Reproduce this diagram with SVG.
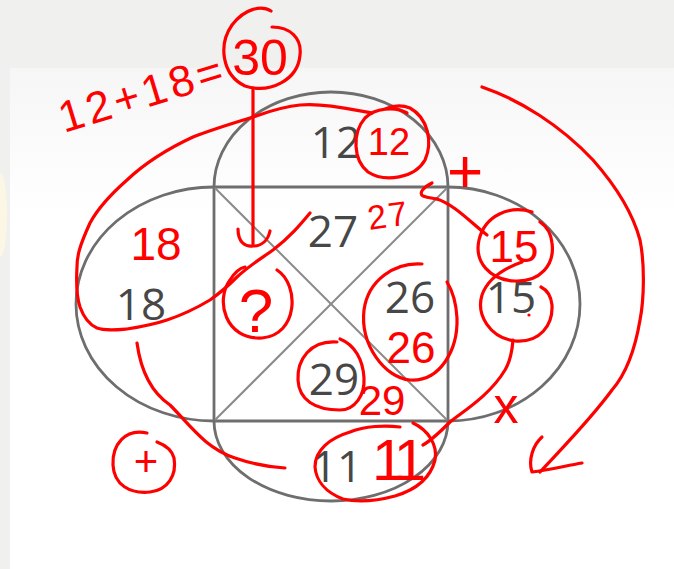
<svg xmlns="http://www.w3.org/2000/svg" width="674" height="569" viewBox="0 0 674 569">
<defs>
<linearGradient id="panel" x1="0" y1="0" x2="0" y2="1">
<stop offset="0" stop-color="#f6f6f6"/>
<stop offset="0.3" stop-color="#ffffff"/>
<stop offset="1" stop-color="#ffffff"/>
</linearGradient>
<style>
.shape{fill:none;stroke:#6e6e6e;stroke-width:2.8;stroke-linecap:round;stroke-linejoin:round}
.diag{fill:none;stroke:#8a8a8a;stroke-width:2}
.num{font-family:"Open Sans","Noto Sans",sans-serif;font-size:44px;fill:#474747;text-anchor:middle}
.ink{fill:none;stroke:#ff0000;stroke-width:3.2;stroke-linecap:round;stroke-linejoin:round}
.hand{font-family:"Liberation Sans",Arial,sans-serif;fill:#ff0000;text-anchor:middle}
.start{text-anchor:start}
</style>
</defs>
<g id="background">
<rect x="0" y="0" width="674" height="569" fill="#f0f0ef"/>
<rect x="10" y="68" width="664" height="501" fill="url(#panel)"/>
<ellipse cx="0" cy="215" rx="7" ry="42" fill="#fcf7e4"/>
</g>
<g id="figure">
<rect x="214" y="187" width="234" height="234" class="shape"/>
<line x1="214" y1="187" x2="448" y2="421" class="diag"/>
<line x1="448" y1="187" x2="214" y2="421" class="diag"/>
<path d="M214,187 A117,95 0 0 1 448,187" class="shape"/>
<path d="M214,421 A117,80 0 0 0 448,421" class="shape"/>
<path d="M214,187 A138,117 0 0 0 214,421" class="shape"/>
<path d="M448,187 A132,117 0 0 1 448,421" class="shape"/>
</g>
<g id="labels">
<text class="num" x="336" y="158">12</text>
<text class="num" x="333" y="247">27</text>
<text class="num" x="141" y="320">18</text>
<text class="num" x="410" y="313">26</text>
<text class="num" x="511" y="313">15</text>
<text class="num" x="334" y="395">29</text>
<text class="num" x="337" y="482">11</text>
</g>
<g id="annotations">
<text class="hand start" x="64" y="133" font-size="44" letter-spacing="4" transform="rotate(-17 64 133)">12+18=</text>
<text class="hand" x="260" y="75" font-size="50">30</text>
<text class="hand" x="389" y="155" font-size="38">12</text>
<text class="hand" x="465" y="192" font-size="62">+</text>
<text class="hand" x="390" y="227" font-size="34" letter-spacing="2" transform="rotate(-8 390 227)">27</text>
<text class="hand" x="514" y="262" font-size="44">15</text>
<text class="hand" x="156" y="260" font-size="46">18</text>
<text class="hand" x="256" y="332" font-size="62">?</text>
<text class="hand" x="411" y="363" font-size="44">26</text>
<text class="hand" x="382" y="415" font-size="42">29</text>
<text class="hand" x="396" y="480" font-size="58" letter-spacing="-6">11</text>
<text class="hand" x="506" y="423" font-size="50">x</text>
<text class="hand" x="146" y="476" font-size="42">+</text>
</g>
<g id="connectors">
<path class="ink" d="M271,11 C262,5 245,8 232,25 C218,45 222,75 245,86 C270,94 298,80 300,55 C302,38 290,27 272,27"/>
<path class="ink" d="M253,88 L253,244"/>
<path class="ink" d="M238,229 C238,243 246,247 253,246 C262,246 268,240 270,231"/>
<path class="ink" d="M372,113 C345,108 320,103 300,105 C280,107 265,113 253,117 C230,124 210,130 193,137 C165,150 145,163 127,180 C110,195 97,210 90,223 C80,245 77,255 77,267 C76,285 77,298 80,307 C84,318 90,325 97,328 C105,331 115,330 127,329 C140,327 155,324 167,320 C185,314 200,306 210,300 C220,293 230,284 237,277 C250,265 262,258 273,250 C290,237 300,225 310,213"/>
<path class="ink" d="M277,270 C300,285 298,335 262,338 C225,340 215,300 230,280 C235,272 240,268 245,267"/>
<path class="ink" d="M407,113 C395,106 375,108 365,118 C352,133 353,160 368,172 C385,183 415,178 425,160 C433,142 428,118 410,108 C400,104 392,106 385,109"/>
<path class="ink" d="M487,235 C470,222 455,205 437,199"/>
<path class="ink" d="M432,183 C424,187 418,193 423,196 C428,198 432,198 437,199"/>
<path class="ink" d="M532,212 C510,205 485,215 479,240 C474,262 490,280 515,281 C540,282 555,265 552,243 C551,233 546,226 540,222"/>
<path class="ink" d="M522,262 C505,268 488,278 482,295 C476,315 490,338 515,341 C540,343 553,325 552,305 C551,296 547,290 541,287"/>
<circle cx="529" cy="315" r="1.6" fill="#ff0000"/>
<path class="ink" d="M513,340 C512,352 510,362 505,370 C490,395 465,410 450,422 C440,432 432,440 423,445"/>
<path class="ink" d="M482,87 C520,100 560,125 593,160 C615,185 632,210 640,240 C645,265 644,300 640,320 C635,350 625,375 612,390 C590,420 565,445 540,472"/>
<path class="ink" d="M542,437 C533,445 528,460 532,472 C548,470 565,466 582,463"/>
<path class="ink" d="M422,264 C395,262 368,280 364,310 C360,345 385,378 410,380 C440,382 458,350 457,318 C456,300 452,290 447,282"/>
<path class="ink" d="M337,342 C310,340 297,360 298,380 C299,400 315,410 340,410 C355,410 365,395 364,378 C363,360 355,345 340,339"/>
<path class="ink" d="M400,427 C385,425 365,426 350,432 C330,438 315,450 315,467 C316,480 325,492 343,499 C360,503 380,500 395,496 C415,490 430,480 435,460 C438,445 428,430 413,423"/>
<path class="ink" d="M137,343 C140,365 148,390 170,405 C190,425 205,448 235,458 C255,465 270,467 285,468"/>
<path class="ink" d="M147,433 C125,428 112,445 113,465 C114,485 130,494 150,492 C168,490 177,475 174,458 C172,450 165,445 157,442"/>
</g>
</svg>
